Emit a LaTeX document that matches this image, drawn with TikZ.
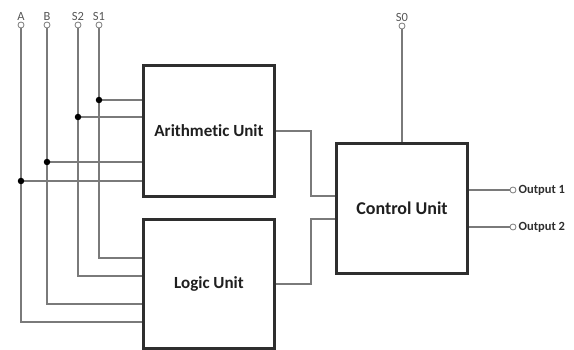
\documentclass[tikz,border=0pt]{standalone}
\usepackage{fontspec}
\setmainfont[Ligatures=NoCommon]{Carlito}
\usetikzlibrary{positioning}
\definecolor{wiregray}{HTML}{7A7A7A}
\definecolor{boxline}{HTML}{2E2E2E}
\definecolor{pinlabel}{HTML}{555555}
\begin{document}
\begin{tikzpicture}[x=1pt,y=-1pt,
  unit/.style={draw=boxline, line width=1.8pt, fill=white, inner sep=0pt, text=black!88},
  wire/.style={draw=wiregray, line width=1.2pt},
  pin/.style={circle, draw=wiregray, fill=white, line width=0.8pt, inner sep=0pt, minimum size=6pt},
  joint/.style={circle, fill=black, inner sep=0pt, minimum size=6.5pt},
  pinname/.style={font=\fontsize{12.5}{14}\selectfont, text=pinlabel, inner sep=1pt},
  outname/.style={font=\bfseries\fontsize{12.5}{14}\selectfont, text=black!82, inner sep=1pt, anchor=west}]
\useasboundingbox (0,0) rectangle (574,350);

% processing blocks
\node[unit, minimum width=130pt, minimum height=130pt,
      font=\bfseries\fontsize{17}{20}\selectfont] (au) at (209,131) {Arithmetic Unit};
\node[unit, minimum width=130pt, minimum height=128pt,
      font=\bfseries\fontsize{17}{20}\selectfont] (lu) at (209,284) {Logic Unit};
\node[unit, minimum width=130pt, minimum height=129pt,
      font=\bfseries\fontsize{18}{21}\selectfont] (cu) at (402,208.5) {Control Unit};

% input pins
\node[pin] (pA)  at (21,25) {};
\node[pin] (pB)  at (47,25) {};
\node[pin] (pS2) at (78,25) {};
\node[pin] (pS1) at (99,25) {};
\node[pin] (pS0) at (402,26) {};
\node[pinname, above=0pt of pA]  (lA)  {A};
\node[pinname, above=0pt of pB]  (lB)  {B};
\node[pinname, above=0pt of pS2] (lS2) {S2};
\node[pinname, above=0pt of pS1] (lS1) {S1};
\node[pinname, above=0pt of pS0] (lS0) {S0};

% output pins
\node[pin] (o1) at (513,190) {};
\node[pin] (o2) at (513,227) {};
\node[outname, right=1pt of o1] (lo1) {Output 1};
\node[outname, right=1pt of o2] (lo2) {Output 2};

% branch points feeding the arithmetic unit
\coordinate (jS1) at (99,100);
\coordinate (jS2) at (78,117);
\coordinate (jB)  at (47,162);
\coordinate (jA)  at (21,181);

% input buses to the logic unit
\draw[wire] (pS1) |- (lu.west |- 0,258);
\draw[wire] (pS2) |- (lu.west |- 0,276);
\draw[wire] (pB)  |- (lu.west |- 0,304);
\draw[wire] (pA)  |- (lu.west |- 0,322);

% taps to the arithmetic unit
\draw[wire] (jS1) -- (au.west |- jS1);
\draw[wire] (jS2) -- (au.west |- jS2);
\draw[wire] (jB)  -- (au.west |- jB);
\draw[wire] (jA)  -- (au.west |- jA);
\foreach \j in {jS1,jS2,jB,jA} \node[joint] at (\j) {};

% results into the control unit
\draw[wire] (au.east) -| (311,196) -- (cu.west |- 0,196);
\draw[wire] (lu.east) -| (311,219) -- (cu.west |- 0,219);
\draw[wire] (pS0) -- (cu.north);

% outputs
\draw[wire] (cu.east |- o1) -- (o1);
\draw[wire] (cu.east |- o2) -- (o2);

% redraw block outlines over wire ends
\foreach \b in {au,lu,cu} \draw[boxline, line width=1.8pt] (\b.north west) rectangle (\b.south east);
\end{tikzpicture}
\end{document}
